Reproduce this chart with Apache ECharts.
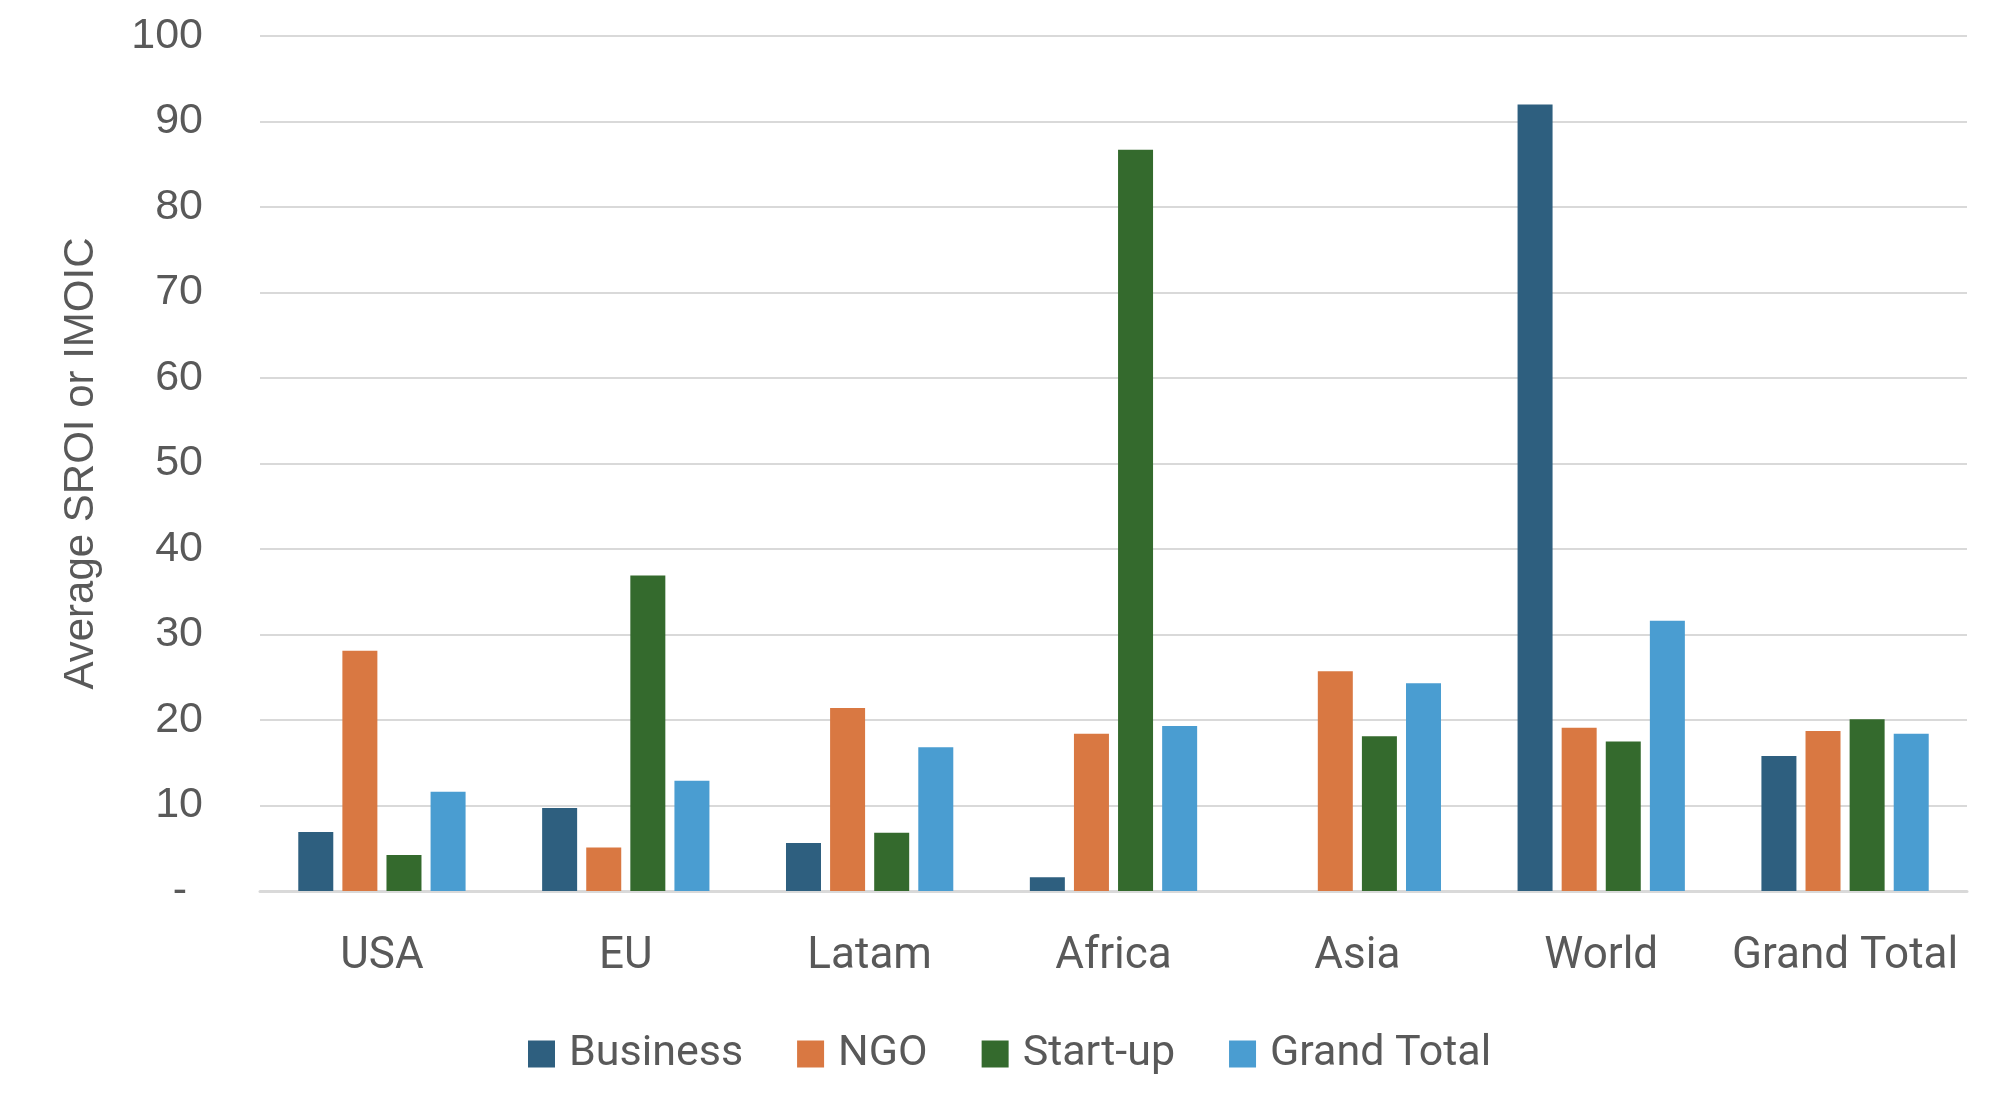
<!DOCTYPE html>
<html>
<head>
<meta charset="utf-8">
<script src="https://cdn.jsdelivr.net/npm/echarts@6/dist/echarts.min.js"></script>
<style>
html,body{margin:0;padding:0;background:#fff;}
#chart{width:2011px;height:1103px;}
</style>
</head>
<body>
<div id="chart"></div>
<script>
const categories = ['USA', 'EU', 'Latam', 'Africa', 'Asia', 'World', 'Grand Total'];
const seriesNames = ['Business', 'NGO', 'Start-up', 'Grand Total'];
const business   = [6.9, 9.7, 5.6, 1.6, 0, 92.0, 15.8];
const ngo        = [28.1, 5.1, 21.4, 18.4, 25.7, 19.1, 18.7];
const startup    = [4.2, 36.9, 6.8, 86.7, 18.1, 17.5, 20.1];
const grandTotal = [11.6, 12.9, 16.8, 19.3, 24.3, 31.6, 18.4];
const yTicks = [0, 10, 20, 30, 40, 50, 60, 70, 80, 90, 100];
const colors = ['#2E5F7F', '#D97842', '#346A2D', '#4A9DD1'];

const values = [business, ngo, startup, grandTotal];
const chart = echarts.init(document.getElementById('chart'));
chart.setOption({
  animation: false,
  backgroundColor: '#fff',
  grid: { left: 260, right: 44, top: 36, bottom: 212, containLabel: false },
  legend: {
    data: seriesNames,
    left: 523,
    top: 1027,
    itemWidth: 27,
    itemHeight: 27,
    itemGap: 54,
    icon: 'rect',
    textStyle: { fontFamily: 'Roboto', fontSize: 43, color: '#595959', lineHeight: 44, padding: [0, 0, 0, 9] }
  },
  xAxis: {
    type: 'category',
    data: categories,
    axisTick: { show: false },
    axisLine: { lineStyle: { color: '#D9D9D9', width: 3 } },
    axisLabel: { interval: 0, fontFamily: 'Roboto', fontSize: 44, color: '#595959', margin: 44 }
  },
  yAxis: {
    type: 'value',
    min: yTicks[0],
    max: yTicks[yTicks.length - 1],
    interval: 10,
    name: 'Average SROI or IMOIC',
    nameLocation: 'middle',
    nameRotate: 90,
    nameGap: 158,
    nameTextStyle: { fontFamily: 'Liberation Sans', fontSize: 42, color: '#595959' },
    axisLine: { show: false },
    axisTick: { show: false },
    splitLine: { lineStyle: { color: '#D9D9D9', width: 2 } },
    axisLabel: {
      fontFamily: 'Liberation Sans', fontSize: 43, color: '#595959', margin: 57,
      formatter: v => v === 0 ? '{d|-}' : String(v),
      rich: { d: { fontFamily: 'Liberation Sans', fontSize: 43, color: '#595959', padding: [0, 16, 0, 0] } }
    }
  },
  series: seriesNames.map((n, i) => ({
    name: n,
    type: 'bar',
    data: values[i],
    barWidth: 35,
    barGap: '26%',
    itemStyle: { color: colors[i] }
  }))
});
</script>
</body>
</html>
